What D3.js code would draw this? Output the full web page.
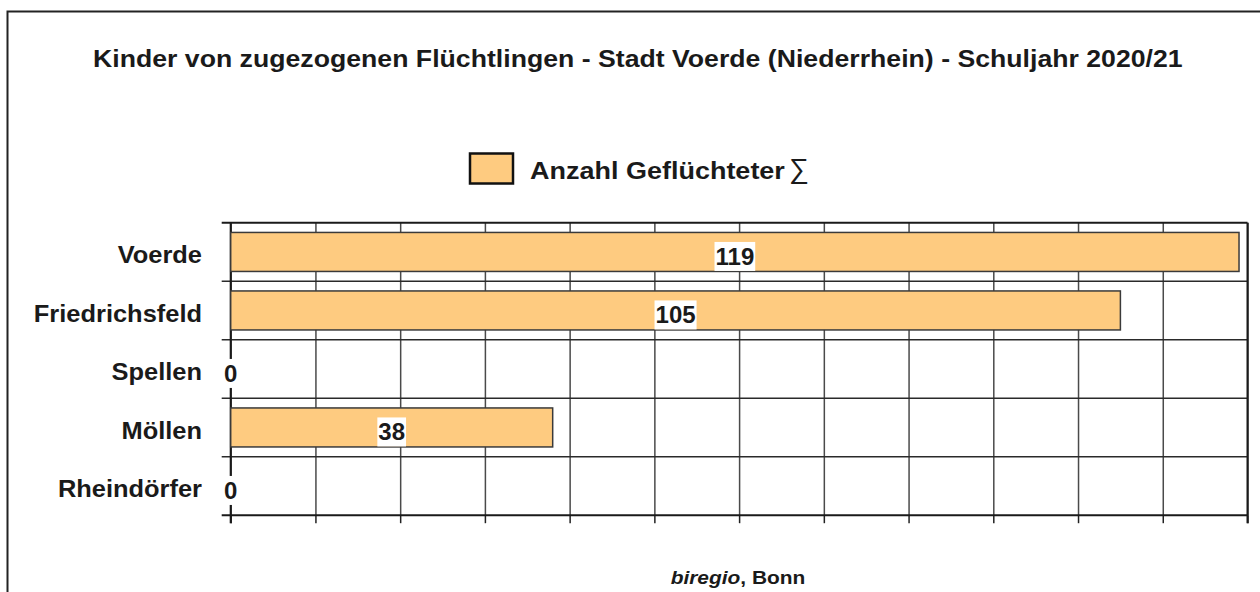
<!DOCTYPE html>
<html>
<head>
<meta charset="utf-8">
<script src="https://cdn.jsdelivr.net/npm/d3@7/dist/d3.min.js"></script>
<style>
  html, body { margin: 0; padding: 0; background: #fff; }
  svg { display: block; font-family: "Liberation Sans", Arial, sans-serif; }
</style>
</head>
<body>
<svg id="chart" width="1260" height="592"></svg>
<script>
// Data
const categories = ["Voerde", "Friedrichsfeld", "Spellen", "Möllen", "Rheindörfer"];
const values = [119, 105, 0, 38, 0];
const xTicks = [0, 10, 20, 30, 40, 50, 60, 70, 80, 90, 100, 110, 120];
const seriesName = "Anzahl Geflüchteter";
const titleText = "Kinder von zugezogenen Flüchtlingen - Stadt Voerde (Niederrhein) - Schuljahr 2020/21";

const svg = d3.select("#chart");
const W = 1260, H = 592;
const plot = { left: 230.7, right: 1247.5, top: 222.7, bottom: 515.2 };

const barFill = "#FECB80";
const gridColor = "#4a4a4a";
const ink = "#1a1a1a";

// Stretch a text node horizontally so that it spans the given width
function fitWidth(sel, x0, y0, width) {
  const w = sel.node().getComputedTextLength();
  sel.attr("transform", `translate(${x0},${y0}) scale(${width / w},1)`);
}

// Outer frame (runs past the right and bottom edges)
svg.append("rect")
  .attr("x", 7.5).attr("y", 11.5)
  .attr("width", W + 20).attr("height", H + 20)
  .attr("fill", "none").attr("stroke", "#222").attr("stroke-width", 2);

// Title
const title = svg.append("text")
  .attr("font-size", 24).attr("font-weight", "bold").attr("fill", ink)
  .text(titleText);
fitWidth(title, 93, 67, 1090);

// Legend
const legend = svg.append("g");
legend.append("rect")
  .attr("x", 470).attr("y", 153.5).attr("width", 43).attr("height", 30)
  .attr("fill", barFill).attr("stroke", "#111").attr("stroke-width", 2.5);
const legText = legend.append("text")
  .attr("font-size", 24.5).attr("font-weight", "bold").attr("fill", ink)
  .text(seriesName);
fitWidth(legText, 530, 179, 255);
legend.append("text")
  .attr("x", 789).attr("y", 178)
  .attr("font-size", 28).attr("fill", ink)
  .text("\u2211");

// Scales
const x = d3.scaleLinear().domain([0, 120]).range([plot.left, plot.right]);
const y = d3.scaleBand().domain(categories)
  .range([plot.top, plot.bottom])
  .paddingInner(1 / 3).paddingOuter(1 / 6);
const step = y.step();
const boundaries = d3.range(categories.length + 1).map(i => plot.top + i * step);

// Vertical grid lines with ticks below the plot
const xAxis = d3.axisBottom(x).tickValues(xTicks).tickFormat("")
  .tickSizeInner(-(plot.bottom - plot.top)).tickSizeOuter(0);
const gx = svg.append("g").attr("transform", `translate(0,${plot.bottom})`).call(xAxis);
gx.select(".domain").remove();
gx.selectAll(".tick line").attr("stroke", gridColor).attr("stroke-width", 1.5);
gx.selectAll(".tick").append("line")
  .attr("y1", 0).attr("y2", 8).attr("stroke", "#222").attr("stroke-width", 1.5);

// Horizontal lines at category boundaries, with ticks left of the axis
svg.append("g").selectAll("line.h").data(boundaries).join("line")
  .attr("x1", plot.left - 9).attr("x2", plot.right)
  .attr("y1", d => d).attr("y2", d => d)
  .attr("stroke", (d, i) => (i === 0 || i === boundaries.length - 1) ? ink : "#2a2a2a")
  .attr("stroke-width", (d, i) => (i === 0 || i === boundaries.length - 1) ? 2 : 1.5);

// Left axis line and right plot edge
svg.append("line")
  .attr("x1", plot.left).attr("x2", plot.left)
  .attr("y1", plot.top).attr("y2", plot.bottom + 8)
  .attr("stroke", ink).attr("stroke-width", 2);
svg.append("line")
  .attr("x1", plot.right).attr("x2", plot.right)
  .attr("y1", plot.top).attr("y2", plot.bottom + 8)
  .attr("stroke", ink).attr("stroke-width", 2);

// Bars
svg.append("g").selectAll("rect").data(categories).join("rect")
  .attr("x", x(0))
  .attr("y", c => y(c))
  .attr("width", (c, i) => x(values[i]) - x(0))
  .attr("height", y.bandwidth())
  .attr("fill", barFill)
  .attr("stroke", "#3a3a3a").attr("stroke-width", 1.5)
  .attr("display", (c, i) => values[i] > 0 ? null : "none");

// Category labels
svg.append("g").selectAll("text").data(categories).join("text")
  .attr("transform", c => `translate(202,${y(c) + y.bandwidth() / 2 + 11.5}) scale(1.06,1)`)
  .attr("text-anchor", "end")
  .attr("font-size", 24).attr("font-weight", "bold").attr("fill", ink)
  .text(c => c);

// Value labels on white boxes
const labels = svg.append("g").selectAll("g").data(categories).join("g")
  .attr("transform", (c, i) =>
    `translate(${(x(0) + x(values[i])) / 2},${y(c) + y.bandwidth() / 2 + 4})`);
labels.append("text")
  .attr("text-anchor", "middle").attr("y", 9)
  .attr("font-size", 24).attr("font-weight", "bold").attr("fill", ink)
  .text((c, i) => values[i]);
labels.each(function () {
  const g = d3.select(this);
  const bb = g.select("text").node().getBBox();
  g.insert("rect", "text")
    .attr("x", bb.x - 1).attr("y", -14)
    .attr("width", bb.width + 2).attr("height", 29)
    .attr("fill", "#fff");
});

// Source line
const src = svg.append("text")
  .attr("transform", "translate(738,584) scale(1.1,1)")
  .attr("text-anchor", "middle")
  .attr("font-size", 19).attr("font-weight", "bold").attr("fill", ink);
src.append("tspan").attr("font-style", "italic").text("biregio");
src.append("tspan").text(", Bonn");
</script>
</body>
</html>
